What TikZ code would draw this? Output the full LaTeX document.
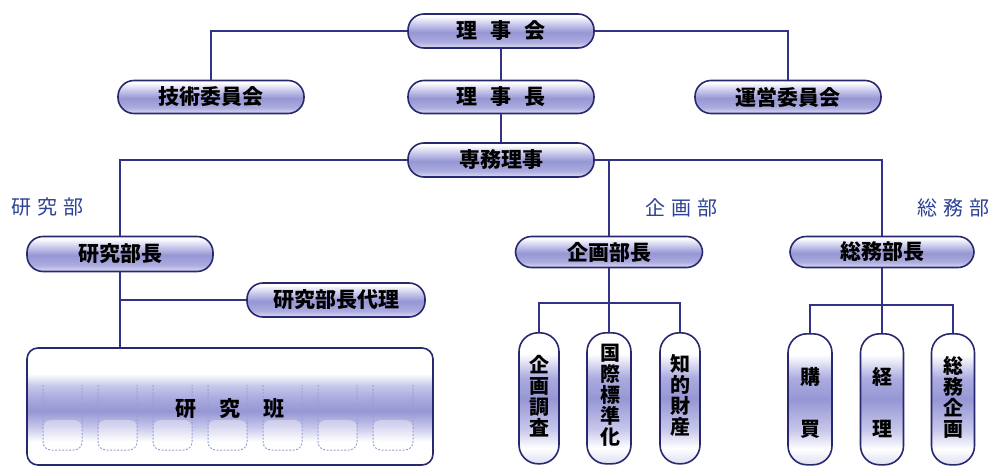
\documentclass[tikz,border=0pt]{standalone}
\usepackage{fontspec}
\newfontfamily\jp{Noto Sans CJK JP}
\definecolor{lnc}{RGB}{50,50,135}
\definecolor{bord}{RGB}{40,40,110}
\definecolor{lbl}{RGB}{45,65,150}
\definecolor{pA}{RGB}{150,150,212}
\definecolor{pA2}{RGB}{172,172,224}
\definecolor{pB}{RGB}{222,222,244}
\definecolor{pC}{RGB}{200,200,236}
\definecolor{tabc}{RGB}{150,160,215}
\pgfdeclareverticalshading{pill}{100bp}{color(0bp)=(pB); color(25bp)=(pB); color(34bp)=(pA2); color(48bp)=(pA); color(60bp)=(pC); color(72bp)=(white); color(100bp)=(white)}
\pgfdeclareverticalshading{tallsh}{100bp}{color(0bp)=(pB); color(25bp)=(pB); color(31bp)=(white); color(38bp)=(pC); color(50bp)=(pA); color(58bp)=(pA2); color(67bp)=(white); color(100bp)=(white)}
\pgfdeclareverticalshading{hansh}{100bp}{color(0bp)=(white); color(25bp)=(white); color(35bp)=(white); color(41bp)=(pC); color(48bp)=(pA); color(54bp)=(pA2); color(59bp)=(pC); color(64bp)=(white); color(100bp)=(white)}
\tikzset{
  pill/.style={draw=bord, line width=1.6pt, rounded corners=16pt, shading=pill,
    minimum width=186, minimum height=34, inner sep=0pt,
    font=\jp\bfseries\fontsize{21}{21}\selectfont, text=black},
  tall/.style={draw=bord, line width=1.6pt, rounded corners=19pt, shading=tallsh,
    minimum width=42, minimum height=131, inner sep=0pt, anchor=north},
  vtext/.style={font=\jp\bfseries\fontsize{20}{21}\selectfont, align=center, inner sep=0pt, text=black},
  dept/.style={font=\jp\fontsize{20}{20}\selectfont, text=lbl, inner sep=0pt},
  conn/.style={draw=lnc, line width=1.5pt},
  tabline/.style={draw=tabc, line width=1pt, dash pattern=on 2pt off 1.5pt, rounded corners=8pt}
}
\begin{document}
\begin{tikzpicture}[x=1pt,y=-1pt]
\clip (0,0) rectangle (993,466);
\fill[white] (0,0) rectangle (993,466);
\coordinate (kbar) at (609,303);
\coordinate (sbar) at (882,305);
% nodes
\node[pill] (rij) at (501,31) {理\hspace{13pt}事\hspace{13pt}会};
\node[pill, minimum height=33] (gij) at (211,97) {技術委員会};
\node[pill, minimum height=33] (rjc) at (501,97) {理\hspace{13pt}事\hspace{13pt}長};
\node[pill, minimum height=33] (uei) at (788,97) {運営委員会};
\node[pill] (sen) at (501,160) {専務理事};
\node[pill, minimum height=35] (kbc) at (120,254) {研究部長};
\node[pill, minimum width=178] (kbd) at (336,300) {研究部長代理};
\node[pill, minimum width=187, minimum height=31] (kan) at (609,252) {企画部長};
\node[pill, minimum width=184, minimum height=31] (smc) at (882,252) {総務部長};
\node[dept] (lk) at (48,207) {研\hspace{6pt}究\hspace{6pt}部};
\node[dept] (lp) at (681,208) {企\hspace{6pt}画\hspace{6pt}部};
\node[dept] (ls) at (953,208) {総\hspace{6pt}務\hspace{6pt}部};
% tall nodes
\node[tall, minimum width=40] (k1) at (539,332) {};
\node[tall, minimum width=44] (k2) at (609,332) {};
\node[tall, minimum width=40] (k3) at (680,332) {};
\node[tall, minimum width=44] (s1) at (810,333) {};
\node[tall, minimum width=43] (s2) at (882,333) {};
\node[tall, minimum width=43] (s3) at (953,333) {};
\node[vtext] (t1) at (539,396) {企\\画\\調\\査};
\node[vtext] (t2) at (610,395) {国\\際\\標\\準\\化};
\node[vtext] (t3) at (680,395) {知\\的\\財\\産};
\node[vtext] (t4) at (810,403) {購\\[31pt]買};
\node[vtext] (t5) at (882,403) {経\\[31pt]理};
\node[vtext] (t6) at (953,397) {総\\務\\企\\画};
% research group box
\node[draw=bord, line width=1.6pt, rounded corners=11pt, shading=hansh,
      minimum width=406, minimum height=117, inner sep=0pt] (kbh) at (230,406.5) {};
\foreach \xa/\xb in {43/82,98/137,153/192,208/247,263/302,318/357,373/413}{
  \fill[white, opacity=0.35, rounded corners=8pt] (\xa,420) -- (\xa,450) -- (\xb,450) -- (\xb,420) -- cycle;
  \draw[tabline] (\xa,385) -- (\xa,450) -- (\xb,450) -- (\xb,385);
}
\node[font=\jp\bfseries\fontsize{21}{21}\selectfont, inner sep=0pt] (kbt) at (230,409) {研\hspace{23pt}究\hspace{23pt}班};
% connectors
\draw[conn] (rij.west) -| (gij.north);
\draw[conn] (rij.east) -| (uei.north);
\draw[conn] (rij.south) -- (rjc.north);
\draw[conn] (rjc.south) -- (sen.north);
\draw[conn] (sen.west) -| (kbc.north);
\draw[conn] (sen.east) -| (smc.north);
\draw[conn] (sen.east -| kan.north) -- (kan.north);
\draw[conn] (kbc.south) -- (kbc.south |- kbh.north);
\draw[conn] (kbc.south |- kbd.west) -- (kbd.west);
\draw[conn] (kan.south) -- (k2.north);
\draw[conn] (k1.north) -- (k1.north |- kbar) -- (k3.north |- kbar) -- (k3.north);
\draw[conn] (smc.south) -- (s2.north);
\draw[conn] (s1.north) -- (s1.north |- sbar) -- (s3.north |- sbar) -- (s3.north);
\end{tikzpicture}
\end{document}
